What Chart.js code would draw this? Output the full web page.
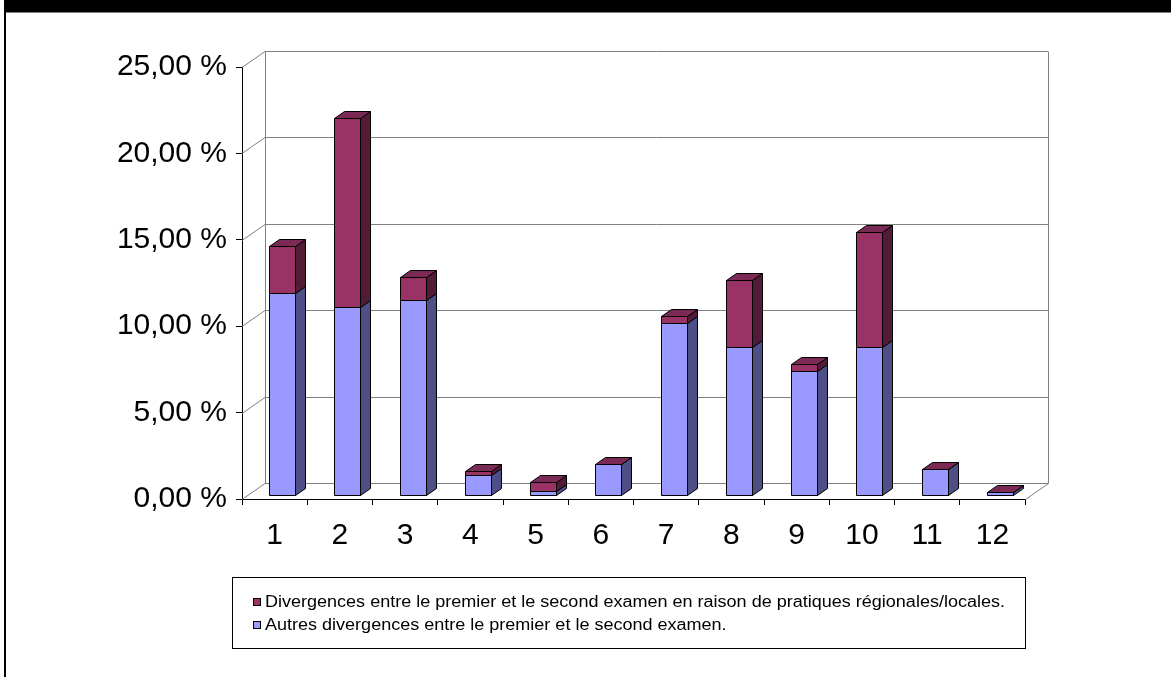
<!DOCTYPE html>
<html>
<head>
<meta charset="utf-8">
<script src="https://cdn.jsdelivr.net/npm/chart.js@4/dist/chart.umd.min.js"></script>
<style>
  html, body { margin: 0; padding: 0; background: #ffffff; }
  #wrap { width: 1171px; height: 677px; }
</style>
</head>
<body>
<div id="wrap"><canvas id="chart" width="1171" height="677"></canvas></div>
<script>
// Chart data
const categories = ['1', '2', '3', '4', '5', '6', '7', '8', '9', '10', '11', '12'];
const autresValues = [11.7, 10.9, 11.3, 1.17, 0.27, 1.83, 9.98, 8.57, 7.19, 8.57, 1.56, 0.21];
const regionalesValues = [2.75, 10.95, 1.36, 0.26, 0.54, 0, 0.38, 3.92, 0.42, 6.67, 0, 0];
const yTicks = [0, 5, 10, 15, 20, 25];
const labelAutres = 'Autres divergences entre le premier et le second examen.';
const labelRegionales = 'Divergences entre le premier et le second examen en raison de pratiques régionales/locales.';

const FONT = '"Liberation Sans", Arial, sans-serif';

// 3D look: back wall offset, bar offset and bar depth
const wallDx = 23, wallDy = -16;
const barDx = 7.5, barDy = -3.5;
const depthDx = 10, depthDy = -7;

const faceColors = [
    { front: '#9999ff', side: '#4f4f88', top: '#7777cc' },
    { front: '#993366', side: '#521c38', top: '#7b2a55' }
];

function poly(ctx, pts, fill) {
    ctx.beginPath();
    ctx.moveTo(pts[0][0], pts[0][1]);
    for (let i = 1; i < pts.length; i++) ctx.lineTo(pts[i][0], pts[i][1]);
    ctx.closePath();
    ctx.fillStyle = fill;
    ctx.fill();
    ctx.stroke();
}

const frame3d = {
    id: 'frame3d',
    beforeDraw(chart) {
        const ctx = chart.ctx;
        ctx.save();
        ctx.fillStyle = '#ffffff';
        ctx.fillRect(0, 0, chart.width, chart.height);
        // page frame and title strip
        ctx.fillStyle = '#000000';
        ctx.fillRect(4, 0, chart.width - 4, 12.5);
        ctx.fillRect(4, 0, 2, chart.height);
        ctx.restore();
    },
    beforeDatasetsDraw(chart) {
        const ctx = chart.ctx;
        const area = chart.chartArea;
        const y = chart.scales.y;
        ctx.save();
        ctx.lineWidth = 1;

        // back wall gridlines + slanted lines from the front axis
        ctx.strokeStyle = '#808080';
        yTicks.forEach(v => {
            const py = Math.round(y.getPixelForValue(v)) + 0.5;
            ctx.beginPath();
            ctx.moveTo(area.left, py);
            ctx.lineTo(area.left + wallDx, py + wallDy);
            ctx.lineTo(area.right + wallDx, py + wallDy);
            ctx.stroke();
        });
        // wall edges
        const top = Math.round(y.getPixelForValue(25)) + 0.5 + wallDy;
        const bot = Math.round(y.getPixelForValue(0)) + 0.5 + wallDy;
        ctx.beginPath();
        ctx.moveTo(area.left + wallDx + 0.5, top);
        ctx.lineTo(area.left + wallDx + 0.5, bot);
        ctx.moveTo(area.right + wallDx + 0.5, top);
        ctx.lineTo(area.right + wallDx + 0.5, bot);
        ctx.lineTo(area.right + 0.5, bot - wallDy);
        ctx.stroke();

        // 3D bars
        ctx.strokeStyle = '#000000';
        const metas = chart.data.datasets.map((_, d) => chart.getDatasetMeta(d));
        categories.forEach((_, i) => {
            metas.forEach((meta, d) => {
                const el = meta.data[i];
                const p = el.getProps(['x', 'y', 'base', 'width'], true);
                const l = Math.round(p.x - p.width / 2 + barDx) + 0.5;
                const r = Math.round(p.x + p.width / 2 + barDx) + 0.5;
                const t = Math.round(p.y + barDy) + 0.5;
                const b = Math.round(p.base + barDy) + 0.5;
                const c = faceColors[d];
                poly(ctx, [[l, b], [r, b], [r, t], [l, t]], c.front);
                poly(ctx, [[r, b], [r + depthDx, b + depthDy], [r + depthDx, t + depthDy], [r, t]], c.side);
                if (d === metas.length - 1) {
                    poly(ctx, [[l, t], [l + depthDx, t + depthDy], [r + depthDx, t + depthDy], [r, t]], c.top);
                }
            });
        });
        ctx.restore();
        return false;
    },
    afterDraw(chart) {
        // legend box, listed top series first
        const ctx = chart.ctx;
        ctx.save();
        ctx.strokeStyle = '#000000';
        ctx.lineWidth = 1;
        ctx.strokeRect(232.5, 577.5, 793, 71);
        const items = chart.data.datasets.slice().reverse();
        const rows = [602, 625];
        ctx.font = '16px ' + FONT;
        ctx.textBaseline = 'middle';
        ctx.textAlign = 'left';
        // Excel's legend text runs a bit wider than Arial here
        const stretch = 740 / ctx.measureText(labelRegionales).width;
        items.forEach((ds, k) => {
            const cy = rows[k];
            ctx.fillStyle = ds.backgroundColor;
            ctx.fillRect(253, cy - 4, 8, 8);
            ctx.strokeRect(253.5, cy - 3.5, 7, 7);
            ctx.fillStyle = '#000000';
            ctx.save();
            ctx.translate(265, cy + 0.5);
            ctx.scale(stretch, 1);
            ctx.fillText(ds.label, 0, 0);
            ctx.restore();
        });
        ctx.restore();
    }
};

new Chart(document.getElementById('chart'), {
    type: 'bar',
    data: {
        labels: categories,
        datasets: [
            { label: labelAutres, data: autresValues, backgroundColor: '#9999ff' },
            { label: labelRegionales, data: regionalesValues, backgroundColor: '#993366' }
        ]
    },
    options: {
        responsive: false,
        animation: false,
        devicePixelRatio: 1,
        categoryPercentage: 1,
        barPercentage: 0.4,
        layout: { padding: { left: 0, top: 67, right: 146, bottom: 0 } },
        plugins: {
            legend: { display: false },
            tooltip: { enabled: false }
        },
        scales: {
            x: {
                stacked: true,
                afterFit: s => { s.height = 178; },
                grid: { drawOnChartArea: false, drawTicks: true, tickLength: 6, color: '#000000', offset: true },
                border: { display: true, color: '#000000' },
                ticks: { color: '#000000', font: { family: FONT, size: 30 }, padding: 13, maxRotation: 0 }
            },
            y: {
                stacked: true,
                min: 0,
                max: 25,
                afterFit: s => { s.width = 242; },
                grid: { drawOnChartArea: false, drawTicks: true, tickLength: 6, color: '#000000' },
                border: { display: true, color: '#000000' },
                ticks: {
                    stepSize: 5,
                    color: '#000000',
                    padding: 9,
                    font: { family: FONT, size: 30 },
                    callback: v => v.toFixed(2).replace('.', ',') + ' %'
                }
            }
        }
    },
    plugins: [frame3d]
});
</script>
</body>
</html>
